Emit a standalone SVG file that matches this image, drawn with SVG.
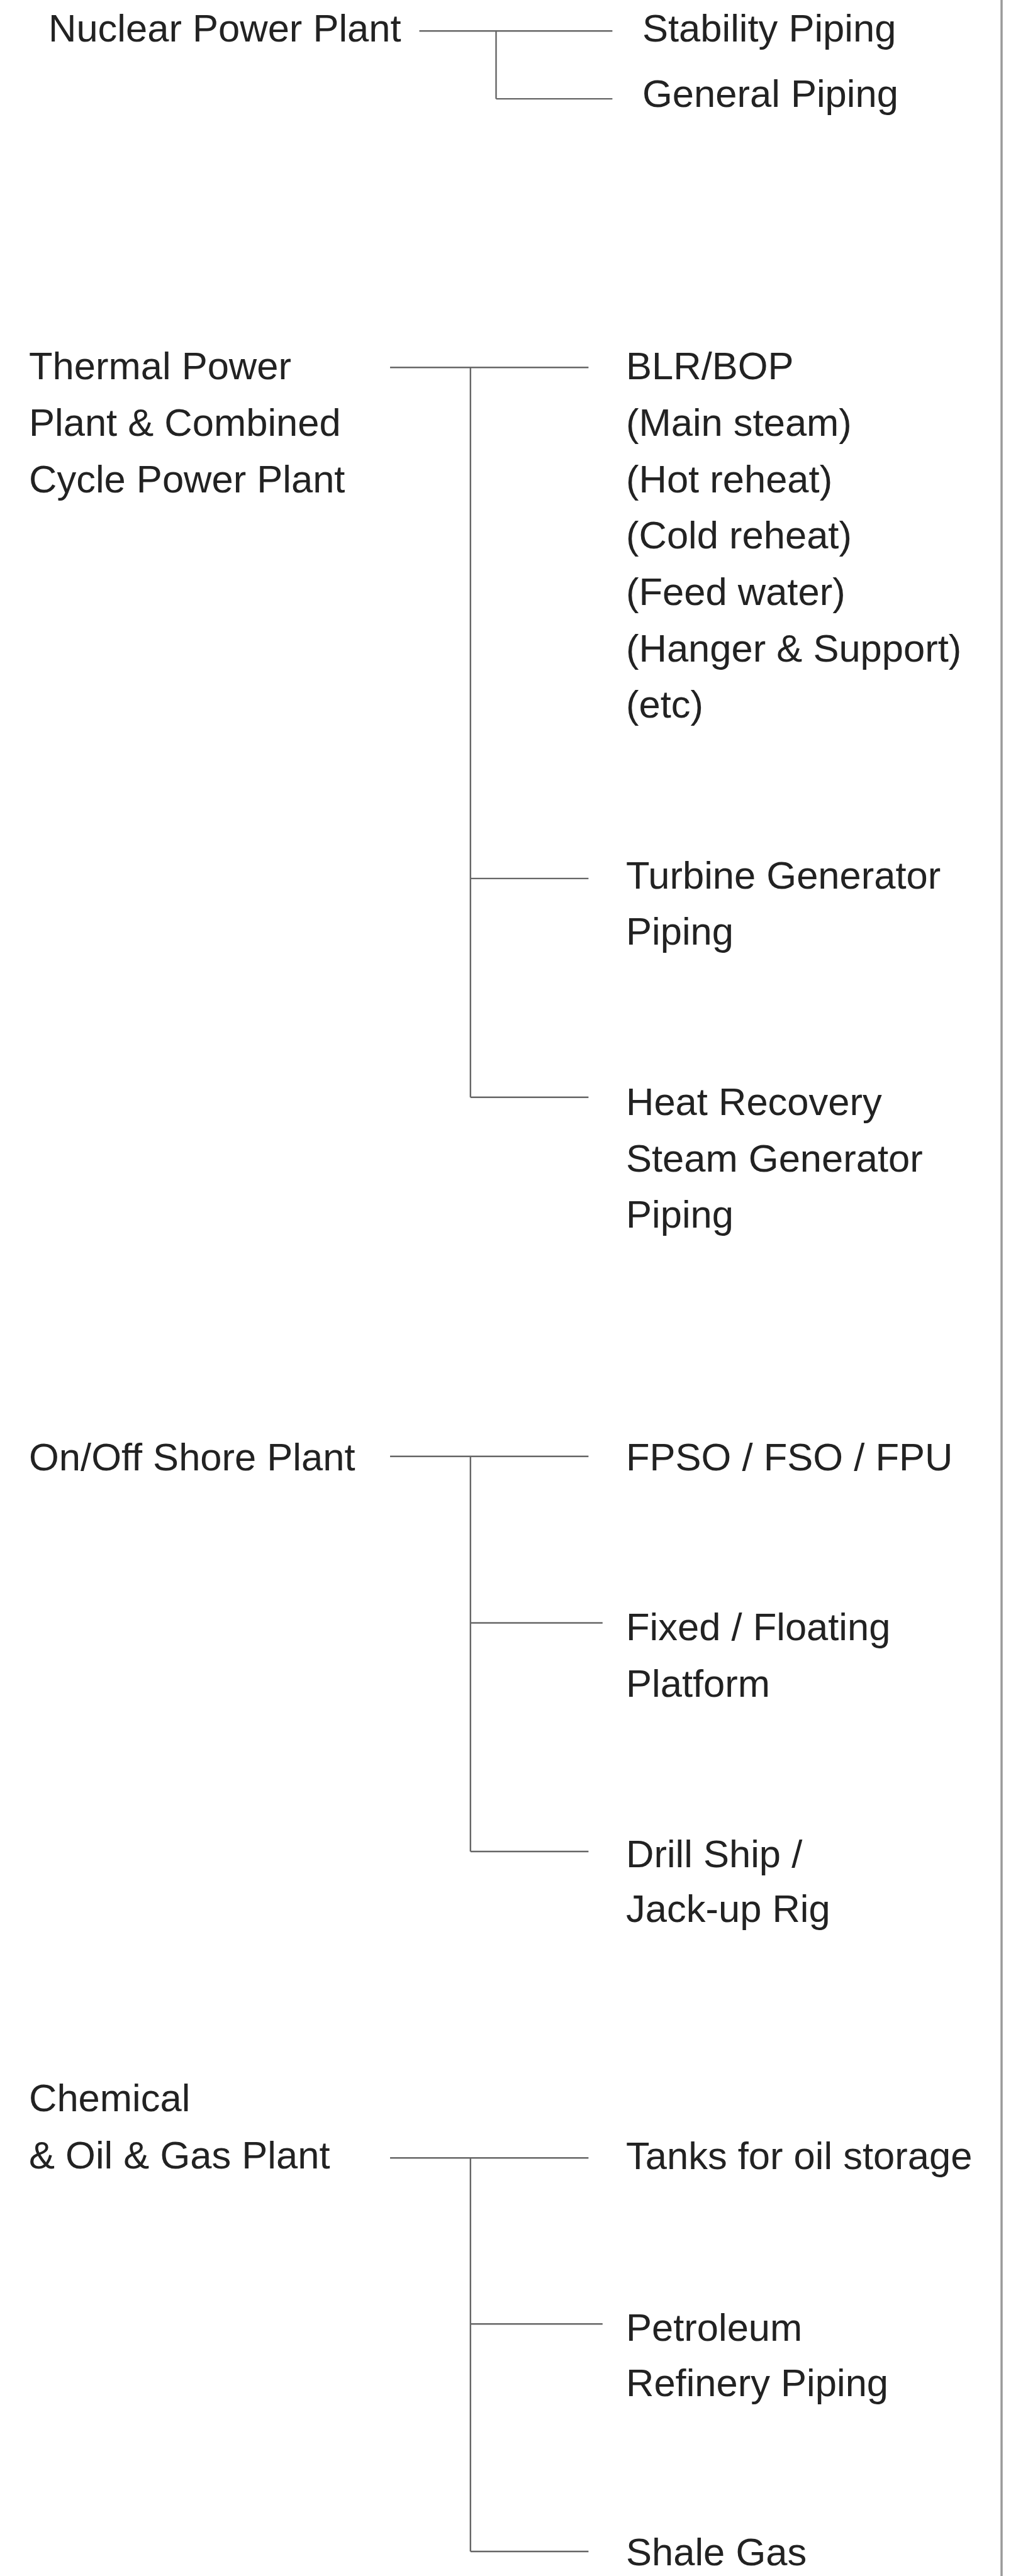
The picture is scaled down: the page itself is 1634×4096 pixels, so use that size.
<svg xmlns="http://www.w3.org/2000/svg" width="1634" height="4096" viewBox="0 0 1634 4096">
<style>
text{font-family:"Liberation Sans",Arial,sans-serif;font-size:61.5px;fill:#222}
.c line{stroke:#666;stroke-width:2.4;fill:none}
.border{stroke:#9a9a9a;stroke-width:3.5}
</style>
<rect width="1634" height="4096" fill="#fff"/>
<line class="border" x1="1592" y1="0" x2="1592" y2="4096"/>
<g id="connectors" class="c">
<line x1="666.5" y1="49.2" x2="973.4" y2="49.2"/>
<line x1="788.5" y1="49.2" x2="788.5" y2="157.1"/>
<line x1="788.5" y1="157.1" x2="973.4" y2="157.1"/>
<line x1="620" y1="584.3" x2="935.4" y2="584.3"/>
<line x1="747.8" y1="584.3" x2="747.8" y2="1744.7"/>
<line x1="747.8" y1="1396.9" x2="935.4" y2="1396.9"/>
<line x1="747.8" y1="1744.7" x2="935.4" y2="1744.7"/>
<line x1="620" y1="2315.7" x2="935.4" y2="2315.7"/>
<line x1="747.8" y1="2315.7" x2="747.8" y2="2944"/>
<line x1="747.8" y1="2580.5" x2="957.8" y2="2580.5"/>
<line x1="747.8" y1="2944" x2="935.4" y2="2944"/>
<line x1="620" y1="3431.2" x2="935.4" y2="3431.2"/>
<line x1="747.8" y1="3431.2" x2="747.8" y2="4057"/>
<line x1="747.8" y1="3695.2" x2="957.8" y2="3695.2"/>
<line x1="747.8" y1="4057" x2="935.4" y2="4057"/>
</g>
<g id="nuclear"><text x="77" y="66.4">Nuclear Power Plant</text></g>
<g id="stability"><text x="1021" y="66.4">Stability Piping</text></g>
<g id="general"><text x="1021" y="170">General Piping</text></g>
<g id="thermal"><text x="46" y="603.4">Thermal Power</text><text x="46" y="693">Plant &amp; Combined</text><text x="46" y="782.7">Cycle Power Plant</text></g>
<g id="blr"><text x="995" y="603.4">BLR/BOP</text><text x="995" y="693.1">(Main steam)</text><text x="995" y="782.7">(Hot reheat)</text><text x="995" y="872.3">(Cold reheat)</text><text x="995" y="962">(Feed water)</text><text x="995" y="1051.6">(Hanger &amp; Support)</text><text x="995" y="1141.3">(etc)</text></g>
<g id="turbine"><text x="995" y="1412.7">Turbine Generator</text><text x="995" y="1502.3">Piping</text></g>
<g id="hrsg"><text x="995" y="1772.9">Heat Recovery</text><text x="995" y="1862.5">Steam Generator</text><text x="995" y="1952.2">Piping</text></g>
<g id="onoff"><text x="46" y="2338.1">On/Off Shore Plant</text></g>
<g id="fpso"><text x="995" y="2338.1">FPSO / FSO / FPU</text></g>
<g id="fixed"><text x="995" y="2607.9">Fixed / Floating</text><text x="995" y="2697.5">Platform</text></g>
<g id="drill"><text x="995" y="2969">Drill Ship /</text><text x="995" y="3056">Jack-up Rig</text></g>
<g id="chemical"><text x="46" y="3357">Chemical</text><text x="46" y="3447.5">&amp; Oil &amp; Gas Plant</text></g>
<g id="tanks"><text x="995" y="3449">Tanks for oil storage</text></g>
<g id="petroleum"><text x="995" y="3721.7">Petroleum</text><text x="995" y="3809.7">Refinery Piping</text></g>
<g id="shale"><text x="995" y="4078.6">Shale Gas</text></g>
</svg>
